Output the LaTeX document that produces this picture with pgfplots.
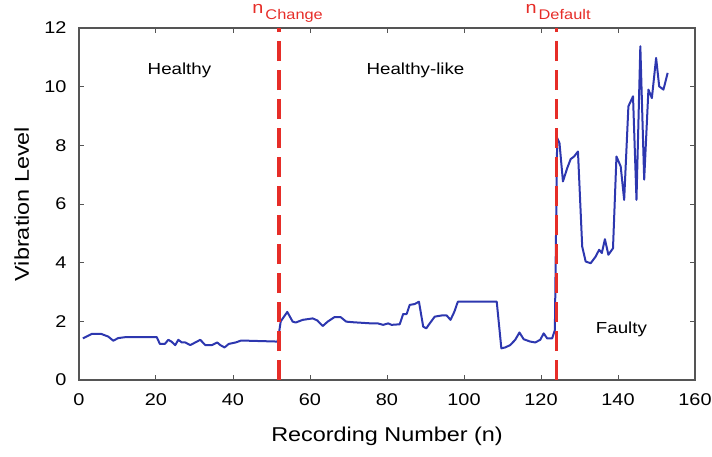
\documentclass[border=0pt]{standalone}
\usepackage{pgfplots}
\pgfplotsset{compat=1.18}
\usepackage{fontspec}
\setmainfont[FakeStretch=1.17]{Liberation Sans}
\definecolor{lineblue}{RGB}{45,55,175}
\definecolor{dashred}{RGB}{230,45,40}
\definecolor{spine}{RGB}{85,85,85}
\begin{document}
\begin{tikzpicture}
\useasboundingbox (-79pt,-76pt) rectangle (633pt,380pt);
\begin{axis}[
  scale only axis, width=616pt, height=352pt,
  xmin=0, xmax=160, ymin=0, ymax=12,
  xtick={0,20,...,160}, ytick={0,2,...,12},
  tick align=inside, major tick length=5pt,
  axis line style={spine, line width=1.4pt},
  tick style={spine, line width=1pt},
  /pgf/number format/assume math mode=true,
  ticklabel style={font=\fontsize{17}{17}\selectfont},
  xticklabel style={yshift=-10pt},
  yticklabel style={xshift=-9pt},
  xlabel={Recording Number (n)}, ylabel={Vibration Level},
  every axis x label/.style={at={(axis description cs:0.5,-0.176)}, anchor=base, font=\fontsize{20}{20}\selectfont},
  every axis y label/.style={at={(axis description cs:-0.093,0.5)}, anchor=center, rotate=90, font=\fontsize{20}{20}\selectfont},
  clip=false,
]
\addplot[lineblue, line width=2pt, line join=round] coordinates {
(1,1.42)(3.3,1.57)(5.8,1.57)(7.6,1.48)(8.9,1.34)(10.2,1.43)(12,1.46)(20.2,1.46)(21,1.23)(22.3,1.23)
(23.2,1.37)(24,1.31)(25,1.19)(25.8,1.37)(26.7,1.28)(27.6,1.28)(28.9,1.19)(30.2,1.28)(31.5,1.37)
(32.8,1.19)(34.5,1.19)(35.9,1.28)(36.7,1.19)(37.8,1.11)(38.9,1.23)(40.7,1.28)(42,1.34)(43.7,1.34)
(51.6,1.31)(52.4,2.0)(54.1,2.32)(55.5,1.99)(56.3,1.96)(58.1,2.05)(60.7,2.10)(61.9,2.03)(63.3,1.84)
(64.6,1.99)(66.3,2.14)(68,2.14)(69.4,1.99)(71.1,1.97)(75.9,1.93)(77.6,1.93)(79,1.88)(80.3,1.93)
(81.2,1.88)(83.3,1.90)(84.2,2.25)(85.1,2.25)(85.9,2.56)(87.2,2.59)(88.3,2.67)(89.4,1.82)(90.2,1.76)
(91.1,1.93)(92.4,2.16)(94.2,2.20)(95.5,2.20)(96.5,2.05)(97.5,2.33)(98.4,2.67)(108.5,2.67)(109.7,1.08)
(110.7,1.11)(112,1.19)(113.3,1.37)(114.4,1.62)(115.5,1.39)(117.2,1.31)(118.5,1.28)(119.8,1.37)
(120.7,1.59)(121.6,1.42)(122.9,1.42)(123.6,1.7)(124.2,8.25)(124.8,8.08)(125.7,6.77)(126.8,7.22)
(127.7,7.53)(128.6,7.62)(129.6,7.79)(130.7,4.55)(131.6,4.04)(132.9,3.98)(134.2,4.21)(135.1,4.44)
(135.8,4.33)(136.6,4.80)(137.5,4.27)(138.7,4.49)(139.6,7.62)(140.7,7.28)(141.6,6.14)(142.7,9.33)
(143.9,9.67)(144.8,6.14)(145.8,11.38)(146.8,6.83)(147.9,9.90)(148.8,9.61)(149.9,10.98)(150.7,10.01)
(151.8,9.90)(152.9,10.47)
};
\addplot[dashred, line width=3.5pt, dash pattern=on 20pt off 9pt] coordinates {(52,0) (52,12)};
\addplot[dashred, line width=3.5pt, dash pattern=on 20pt off 9pt] coordinates {(124,0) (124,12)};
\node[font=\fontsize{16}{16}\selectfont] at (axis cs:26.1,10.55) {Healthy};
\node[font=\fontsize{16}{16}\selectfont] at (axis cs:87.4,10.55) {Healthy-like};
\node[font=\fontsize{16}{16}\selectfont] at (axis cs:140.9,1.74) {Faulty};
\node[dashred, anchor=base west, inner sep=0pt, text height=9pt, xshift=-27pt, yshift=15pt, font=\fontsize{17}{17}\selectfont]
  at (axis cs:52,12) {n\kern2pt\raisebox{-6.5pt}{\fontsize{14}{14}\selectfont Change}};
\node[dashred, anchor=base west, inner sep=0pt, text height=9pt, xshift=-31pt, yshift=15pt, font=\fontsize{17}{17}\selectfont]
  at (axis cs:124,12) {n\kern2pt\raisebox{-6.5pt}{\fontsize{14}{14}\selectfont Default}};
\end{axis}
\end{tikzpicture}
\end{document}
